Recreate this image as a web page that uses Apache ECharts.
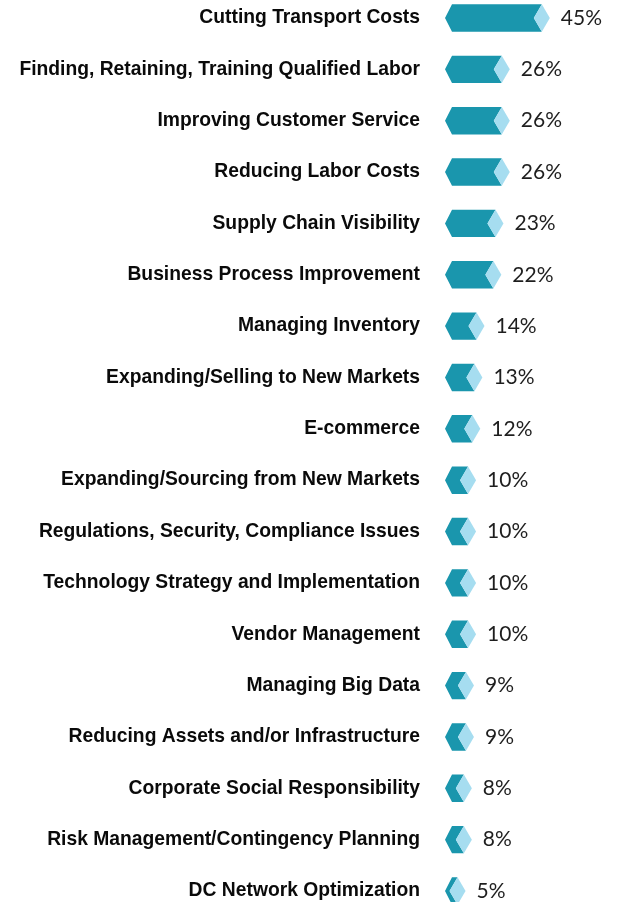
<!DOCTYPE html>
<html>
<head>
<meta charset="utf-8">
<script src="https://cdn.jsdelivr.net/npm/echarts@6/dist/echarts.min.js"></script>
<style>
  html, body { margin: 0; padding: 0; background: #fff; }
  #chart { width: 624px; height: 902px; }
</style>
</head>
<body>
<div id="chart"></div>
<script>
// categories, top to bottom
var categories = [
  'Cutting Transport Costs',
  'Finding, Retaining, Training Qualified Labor',
  'Improving Customer Service',
  'Reducing Labor Costs',
  'Supply Chain Visibility',
  'Business Process Improvement',
  'Managing Inventory',
  'Expanding/Selling to New Markets',
  'E-commerce',
  'Expanding/Sourcing from New Markets',
  'Regulations, Security, Compliance Issues',
  'Technology Strategy and Implementation',
  'Vendor Management',
  'Managing Big Data',
  'Reducing Assets and/or Infrastructure',
  'Corporate Social Responsibility',
  'Risk Management/Contingency Planning',
  'DC Network Optimization'
];
var percents = [45, 26, 26, 26, 23, 22, 14, 13, 12, 10, 10, 10, 10, 9, 9, 8, 8, 5];

var DARK = '#1a96ad';
var LIGHT = '#a6ddf0';

function renderItem(params, api) {
  var v = api.value(0);
  var idx = api.value(1);
  var start = api.coord([0, idx]);
  var end = api.coord([v, idx]);
  var cy = start[1];
  var h = 13.7;   // half bar height
  var d = 8;      // half width of tip diamond
  var x0 = start[0];
  var xe = end[0];
  return {
    type: 'group',
    children: [
      {
        type: 'polygon',
        shape: { points: [[x0 - 2, cy], [x0 + 5, cy - h], [xe, cy - h], [xe - d, cy], [xe, cy + h], [x0 + 5, cy + h]] },
        style: { fill: DARK }
      },
      {
        type: 'polygon',
        shape: { points: [[xe - d, cy], [xe, cy - h], [xe + d, cy], [xe, cy + h]] },
        style: { fill: LIGHT }
      },
      {
        type: 'text',
        style: {
          text: v + '%',
          x: xe + d + 11,
          y: cy,
          align: 'left',
          verticalAlign: 'middle',
          fill: '#1e1e1e',
          fontSize: 21,
          fontFamily: 'Lato'
        }
      }
    ]
  };
}

var myChart = echarts.init(document.getElementById('chart'));

var option = {
  animation: false,
  grid: { left: 447, right: 0, top: 18, bottom: 11 },
  xAxis: {
    type: 'value',
    min: 0,
    max: 84,
    show: false
  },
  yAxis: {
    type: 'category',
    data: categories,
    inverse: true,
    boundaryGap: false,
    axisLine: { show: false },
    axisTick: { show: false },
    splitLine: { show: false },
    axisLabel: {
      margin: 27,
      color: '#0a0a0a',
      fontSize: 19.3,
      fontWeight: 'bold',
      fontFamily: 'Liberation Sans'
    }
  },
  series: [
    {
      type: 'custom',
      renderItem: renderItem,
      encode: { x: 0, y: 1 },
      data: percents.map(function (v, i) { return [v, i]; })
    }
  ]
};
option && myChart.setOption(option);
</script>
</body>
</html>
